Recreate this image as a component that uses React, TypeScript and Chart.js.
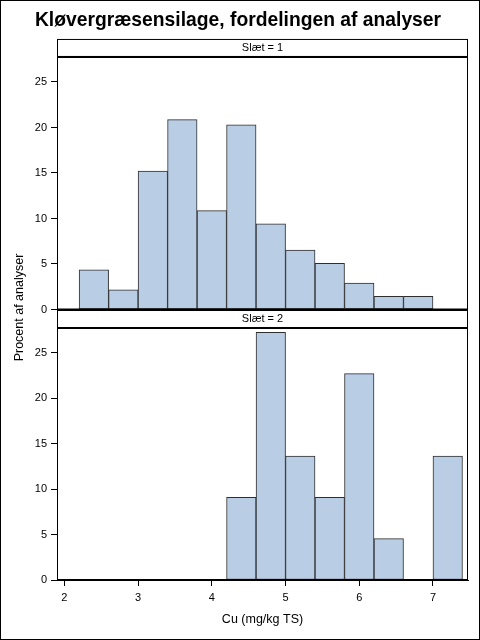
import { useEffect, useRef } from 'react';
import { Chart, registerables } from 'chart.js';

Chart.register(...registerables);

// histogram bins of 0.4 mg/kg TS, given by their centres
const binCenters = [2.4, 2.8, 3.2, 3.6, 4.0, 4.4, 4.8, 5.2, 5.6, 6.0, 6.4, 6.8, 7.2];
// percent of analyses per bin
const slaet1Percent = [4.35, 2.17, 15.2, 20.87, 10.87, 20.29, 9.42, 6.52, 5.07, 2.9, 1.45, 1.45, 0];
const slaet2Percent = [0, 0, 0, 0, 0, 9.09, 27.27, 13.64, 9.09, 22.73, 4.55, 0, 13.64];
const xTicks = [2, 3, 4, 5, 6, 7];
const yTicks = [0, 5, 10, 15, 20, 25];
const panelLabels = ['Slæt = 1', 'Slæt = 2'];

const titleText = 'Kløvergræsensilage, fordelingen af analyser';
const xTitle = 'Cu (mg/kg TS)';
const yTitle = 'Procent af analyser';

const FONT = '"Liberation Sans", Arial, sans-serif';
const W = 480;
const H = 640;

Chart.defaults.font.family = FONT;
Chart.defaults.color = '#000';

const panelFrame = (label: string, withYTitle: boolean) => ({
  id: 'panelFrame',
  afterDraw(chart: any) {
    const { ctx, chartArea: a } = chart;
    const w = a.right - a.left;
    ctx.save();
    ctx.strokeStyle = '#000';
    ctx.fillStyle = '#000';
    ctx.lineWidth = 1;
    // strip header above the cell
    ctx.strokeRect(a.left + 0.5, a.top - 18 + 0.5, w - 1, 18);
    ctx.font = `11px ${FONT}`;
    ctx.textAlign = 'center';
    ctx.textBaseline = 'middle';
    ctx.fillText(label, (a.left + a.right) / 2, a.top - 9);
    // cell frame
    ctx.strokeRect(a.left + 0.5, a.top + 0.5, w - 1, a.bottom - a.top - 1);
    ctx.fillRect(a.left, a.top - 1, w, 2);
    if (withYTitle) {
      ctx.fillRect(a.left, a.bottom - 0.5, w, 2);
      ctx.save();
      ctx.translate(19.5, 307.5);
      ctx.rotate(-Math.PI / 2);
      ctx.font = `12.5px ${FONT}`;
      ctx.fillText(yTitle, 0, 0);
      ctx.restore();
    }
    ctx.restore();
  },
});

const makeConfig = (values: number[], panel: number): any => ({
  type: 'bar',
  data: {
    datasets: [
      {
        data: binCenters.map((x, i) => ({ x, y: values[i] })),
        backgroundColor: '#B9CDE5',
        borderColor: '#2e2e2e',
        borderWidth: 1,
        borderSkipped: false,
        barPercentage: 1,
        categoryPercentage: 1,
      },
    ],
  },
  options: {
    animation: false,
    responsive: false,
    layout: {
      padding:
        panel === 1
          ? { left: 8, right: 12, top: 0, bottom: 330.5 }
          : { left: 8, right: 12, top: 328, bottom: 0 },
    },
    plugins: {
      legend: { display: false },
      tooltip: { enabled: false },
      title: {
        display: panel === 1,
        text: titleText,
        font: { size: 19.3, weight: 'bold', family: FONT },
        color: '#000',
        padding: { top: 8.6, bottom: 25.2 },
      },
    },
    scales: {
      x: {
        type: 'linear',
        min: 1.9,
        max: 7.475,
        offset: false,
        display: panel === 2,
        afterBuildTicks: (s: any) => {
          s.ticks = xTicks.map((v) => ({ value: v }));
        },
        afterFit: (s: any) => {
          s.height = panel === 2 ? 60 : 0;
        },
        ticks: { font: { size: 11 }, color: '#000', padding: 5, maxRotation: 0 },
        grid: { drawOnChartArea: false, offset: false, tickLength: 6, color: '#000' },
        border: { color: '#000' },
        title: {
          display: true,
          text: xTitle,
          font: { size: 12.5 },
          color: '#000',
          padding: { top: 0, bottom: 13 },
        },
      },
      y: {
        min: 0,
        max: 27.75,
        afterBuildTicks: (s: any) => {
          s.ticks = yTicks.map((v) => ({ value: v }));
        },
        afterFit: (s: any) => {
          s.width = 49;
        },
        ticks: { font: { size: 11 }, color: '#000', padding: 4 },
        grid: { drawOnChartArea: false, tickLength: 6, color: '#000' },
        border: { color: '#000' },
      },
    },
  },
  plugins: [panelFrame(panelLabels[panel - 1], panel === 1)],
});

function App() {
  const topRef = useRef<HTMLCanvasElement>(null);
  const bottomRef = useRef<HTMLCanvasElement>(null);

  useEffect(() => {
    const top = new Chart(topRef.current!, makeConfig(slaet1Percent, 1));
    const bottom = new Chart(bottomRef.current!, makeConfig(slaet2Percent, 2));
    return () => {
      top.destroy();
      bottom.destroy();
    };
  }, []);

  const canvasStyle: any = { position: 'absolute', left: 0, top: 0, width: W, height: H };

  return (
    <div style={{ position: 'fixed', left: 0, top: 0, width: W, height: H, background: '#fff' }}>
      <canvas ref={topRef} width={W} height={H} style={canvasStyle} />
      <canvas ref={bottomRef} width={W} height={H} style={canvasStyle} />
      <div
        style={{
          position: 'absolute',
          inset: 0,
          border: '1px solid #000',
          boxSizing: 'border-box',
          pointerEvents: 'none',
        }}
      />
    </div>
  );
}

export default App;
